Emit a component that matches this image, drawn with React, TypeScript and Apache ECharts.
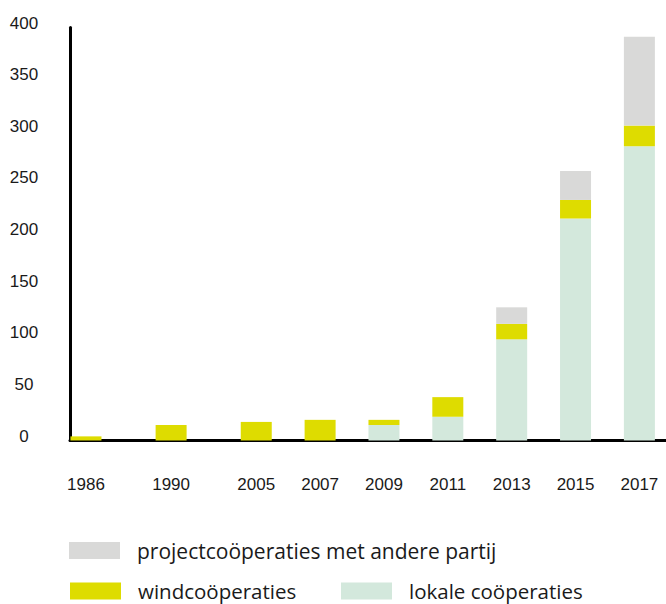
import React, { useEffect, useRef } from "react";
import * as echarts from "echarts";

// ---- data ----
const YEARS = ["1986", "1990", "2005", "2007", "2009", "2011", "2013", "2015", "2017"];
const LOKALE = [0, 0, 0, 0, 15, 23, 98, 215, 285];
const WIND = [4, 15, 18, 20, 5, 19, 15, 18, 20];
const PROJECT = [0, 0, 0, 0, 0, 0, 16, 28, 86];
const Y_TICKS = [0, 50, 100, 150, 200, 250, 300, 350, 400];

const NAME_PROJECT = "projectcoöperaties met andere partij";
const NAME_WIND = "windcoöperaties";
const NAME_LOKALE = "lokale coöperaties";

// ---- layout (uneven spacing of the year columns on the category axis) ----
const TOTAL_SLOTS = 56;
const SLOT_INDEX = [1, 9, 17, 23, 29, 35, 41, 47, 53];

const COLORS = {
  project: "#d9d9d8",
  wind: "#dedc00",
  lokale: "#d3e8dc",
};

function spread(values: (number | string)[], empty: any) {
  const out: any[] = new Array(TOTAL_SLOTS).fill(empty);
  values.forEach((v, i) => {
    out[SLOT_INDEX[i]] = v;
  });
  return out;
}

export default function App() {
  const ref = useRef<HTMLDivElement>(null);
  useEffect(() => {
    if (!ref.current) return;
    const chart = echarts.init(ref.current, undefined, { renderer: "svg" });
    const categories = spread(YEARS, "");
    const legendText = (size: number) => ({
      fontFamily: "Open Sans",
      fontSize: size,
      color: "#1a1a1a",
      lineHeight: 17,
      padding: [0, 0, 0, 12],
    });
    const legendBase = {
      orient: "horizontal",
      itemWidth: 51,
      itemHeight: 17,
      padding: 0,
      icon: "rect",
      selectedMode: false,
    };
    chart.setOption({
      animation: false,
      grid: { left: 70, right: 0, top: 27.5, bottom: 163.5, containLabel: false },
      legend: [
        { ...legendBase, textStyle: legendText(21), left: 69, top: 540, data: [NAME_PROJECT] },
        { ...legendBase, textStyle: legendText(20.5), left: 70, top: 580.5, data: [NAME_WIND] },
        { ...legendBase, textStyle: legendText(20.5), left: 341, top: 580.5, data: [NAME_LOKALE] },
      ],
      xAxis: {
        type: "category",
        data: categories,
        offset: 1.5,
        axisLine: { show: true, lineStyle: { color: "#000", width: 3 } },
        axisTick: { show: false },
        axisLabel: {
          interval: 0,
          margin: 33.5,
          fontFamily: "Liberation Sans",
          fontSize: 17,
          color: "#1a1a1a",
        },
        splitLine: { show: false },
      },
      yAxis: {
        type: "value",
        min: Y_TICKS[0],
        max: Y_TICKS[Y_TICKS.length - 1],
        interval: Y_TICKS[1] - Y_TICKS[0],
        axisLine: { show: true, lineStyle: { color: "#000", width: 3 } },
        axisTick: { show: false },
        splitLine: { show: false },
        axisLabel: {
          align: "center",
          verticalAlign: "bottom",
          lineHeight: 9,
          margin: 46,
          fontFamily: "Liberation Sans",
          fontSize: 17,
          color: "#1a1a1a",
        },
      },
      series: [
        {
          name: NAME_LOKALE,
          type: "bar",
          stack: "total",
          barWidth: 31,
          itemStyle: { color: COLORS.lokale },
          data: spread(LOKALE, null),
        },
        {
          name: NAME_WIND,
          type: "bar",
          stack: "total",
          barWidth: 31,
          itemStyle: { color: COLORS.wind },
          data: spread(WIND, null),
        },
        {
          name: NAME_PROJECT,
          type: "bar",
          stack: "total",
          barWidth: 31,
          itemStyle: { color: COLORS.project },
          data: spread(PROJECT, null),
        },
      ],
    });
    return () => chart.dispose();
  }, []);
  return (
    <div
      ref={ref}
      style={{ position: "absolute", left: 0, top: 0, width: 666, height: 604 }}
    />
  );
}
